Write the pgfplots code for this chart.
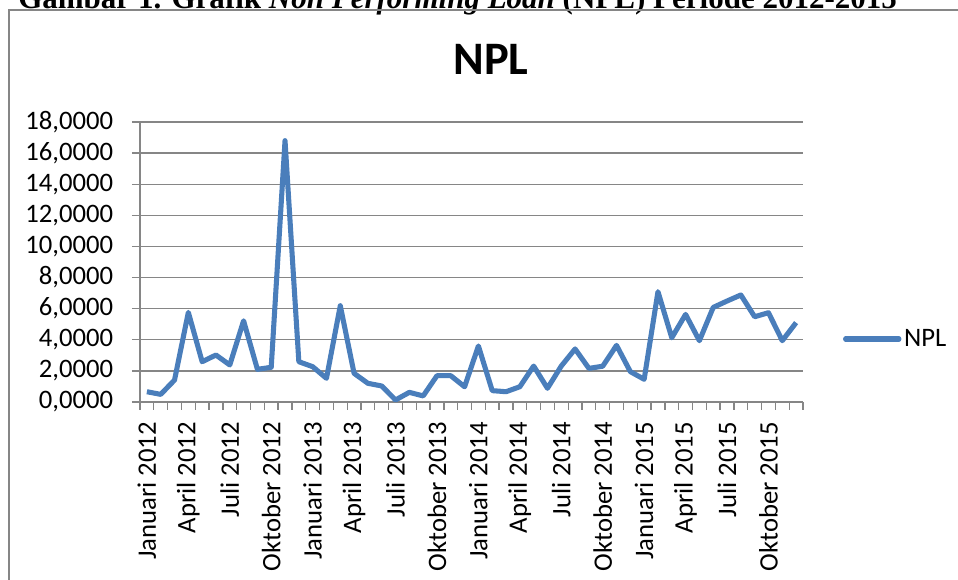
\documentclass[border=0pt]{standalone}
\usepackage{pgfplots}
\pgfplotsset{compat=1.18}
\usepackage{fontspec}
\setmainfont{Carlito}
\newfontfamily\timesfont{Liberation Serif}
\definecolor{nplblue}{HTML}{4A7EBB}
\definecolor{gridgray}{HTML}{868686}
\begin{document}
\begin{tikzpicture}
\useasboundingbox (0,0) rectangle (718.5pt,435pt);
\clip (0,0) rectangle (718.5pt,435pt);
% caption cut at the top
\node[anchor=base west, inner sep=0pt] at (13.5pt,428.5pt)
  {\resizebox{659pt}{!}{\timesfont\bfseries Gambar 1. Grafik \textit{Non Performing Loan} (NPL) Periode 2012-2015}};
% chart border
\draw[gridgray, line width=1.5pt] (7.1pt,-10pt) -- (7.1pt,427.5pt) -- (740pt,427.5pt);
% title
\node[anchor=base, inner sep=0pt, font=\fontsize{34.9pt}{40pt}\selectfont\bfseries] at (368.25pt,378.75pt) {NPL};
\begin{axis}[
  at={(105pt,133.5pt)}, anchor=south west,
  scale only axis, width=497.25pt, height=210pt,
  xmin=-0.5, xmax=47.5, ymin=0, ymax=18,
  ytick={0,2,...,18},
  xtick={0,3,...,45},
  xticklabels={Januari 2012,April 2012,Juli 2012,Oktober 2012,Januari 2013,April 2013,Juli 2013,Oktober 2013,Januari 2014,April 2014,Juli 2014,Oktober 2014,Januari 2015,April 2015,Juli 2015,Oktober 2015},
  minor xtick={-0.5,0.5,...,47.5},
  axis lines=left, axis line style={-, gridgray, line width=1pt},
  tick align=outside,
  major tick length=6pt, minor tick length=6pt,
  x tick style={gridgray, line width=1pt, /pgfplots/major tick length=0pt},
  y tick style={gridgray, line width=1pt},
  ymajorgrids, grid style={gridgray, line width=1pt},
  tick label style={font=\fontsize{20pt}{23pt}\selectfont},
  xticklabel style={rotate=90, anchor=east, inner sep=0pt, xshift=-9pt},
  yticklabel style={anchor=east, inner sep=0pt, xshift=-14pt},
  /pgf/number format/.cd, fixed, fixed zerofill, precision=4, use comma, 1000 sep={}, assume math mode=true,
  /pgfplots/.cd,
  clip=false,
  legend style={at={(1.060,0.225)}, anchor=west, draw=none, fill=none, inner sep=0pt,
    font=\fontsize{20pt}{23pt}\selectfont, /tikz/every even column/.append style={column sep=0pt}},
  legend image code/.code={\draw[#1, line cap=round] (0pt,0pt) -- (40pt,0pt);},
]
\addplot[nplblue, line width=3.8pt, line join=round, mark=none] coordinates {
(0,0.66) (1,0.49) (2,1.41) (3,5.76) (4,2.59) (5,3.02) (6,2.38) (7,5.22)
(8,2.10) (9,2.23) (10,16.8) (11,2.59) (12,2.27) (13,1.52) (14,6.19) (15,1.84)
(16,1.20) (17,1.03) (18,0.13) (19,0.62) (20,0.39) (21,1.69) (22,1.69) (23,0.98)
(24,3.60) (25,0.73) (26,0.66) (27,0.98) (28,2.31) (29,0.88) (30,2.31) (31,3.41)
(32,2.16) (33,2.30) (34,3.64) (35,1.95) (36,1.46) (37,7.09) (38,4.13) (39,5.63)
(40,3.94) (41,6.08) (42,6.49) (43,6.88) (44,5.48) (45,5.74) (46,3.94) (47,5.10)
};
\addlegendentry{NPL}
\end{axis}
\end{tikzpicture}
\end{document}
